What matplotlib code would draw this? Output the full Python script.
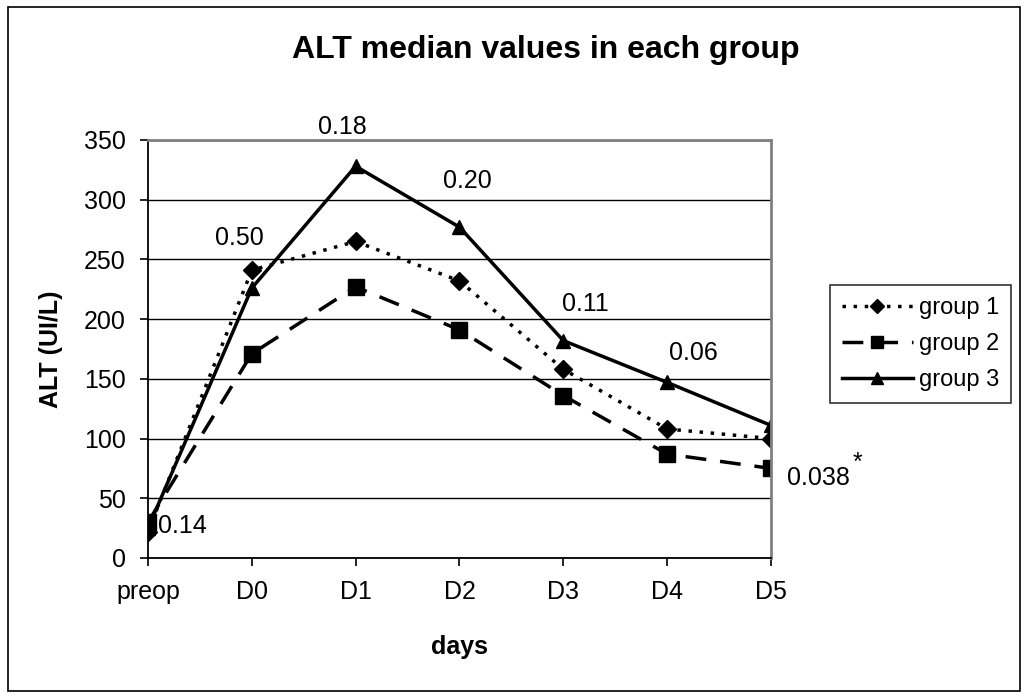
import numpy as np
import matplotlib.pyplot as plt
from matplotlib.patches import Rectangle

plt.rcParams['font.family'] = ['Liberation Sans', 'DejaVu Sans']

# data
days = ["preop", "D0", "D1", "D2", "D3", "D4", "D5"]
group1 = [22, 241, 265, 232, 158, 108, 100]
group2 = [30, 171, 227, 191, 136, 87, 75]
group3 = [25, 226, 328, 277, 182, 147, 111]

# p-values written next to the points
p_labels = ["0.14", "0.50", "0.18", "0.20", "0.11", "0.06", "0.038"]
p_x = [0.1, 0.65, 1.64, 2.84, 3.99, 5.02, 6.15]
p_y = [27, 268, 361, 316, 213, 172, 67]

fig = plt.figure(figsize=(10.27, 6.98), dpi=100)
ax = fig.add_axes([0.1441, 0.2006, 0.6066, 0.5989])

x = np.arange(len(days))
ax.plot(x, group1, color='black', linestyle=(0, (1, 2.2)), linewidth=2.5,
        marker='D', markersize=9, label='group 1')
ax.plot(x, group2, color='black', linestyle=(0, (6, 4)), linewidth=2.5,
        marker='s', markersize=11, label='group 2')
ax.plot(x, group3, color='black', linestyle='-', linewidth=2.5,
        marker='^', markersize=10, label='group 3')

for i in range(len(p_labels)):
    ax.text(p_x[i], p_y[i], p_labels[i], fontsize=18, ha='left', va='center',
            clip_on=False)
ax.text(6.79, 80, "*", fontsize=18, ha='left', va='center', clip_on=False)

ax.set_xlim(0, 6)
ax.set_ylim(0, 350)
ax.set_xticks(x)
ax.set_xticklabels(days)
ax.set_yticks(np.arange(0, 351, 50))
ax.tick_params(axis='both', labelsize=18, direction='out', length=6,
               width=1.2, color='black')
ax.tick_params(axis='x', pad=10)
ax.tick_params(axis='y', pad=10)

ax.yaxis.grid(True, color='black', linewidth=1)
ax.set_axisbelow(True)
ax.spines['left'].set_linewidth(1.3)
ax.spines['bottom'].set_linewidth(1.3)
ax.spines['top'].set_color('#808080')
ax.spines['right'].set_color('#808080')
ax.spines['top'].set_linewidth(2)
ax.spines['right'].set_linewidth(2)

ax.set_xlabel("days", fontsize=18, fontweight='bold', labelpad=22)
ax.set_ylabel("ALT (UI/L)", fontsize=18, fontweight='bold', labelpad=15)
fig.text(0.531, 0.928, "ALT median values in each group", fontsize=23,
         fontweight='bold', ha='center', va='center')

leg = fig.legend(loc='upper left', bbox_to_anchor=(830 / 1027, 1 - 285 / 698),
                 borderaxespad=0, fontsize=17, frameon=True, fancybox=False,
                 handlelength=3.0, handletextpad=0.25, borderpad=0.5,
                 labelspacing=0.6, markerscale=0.8)
leg.get_frame().set_edgecolor('black')
leg.get_frame().set_linewidth(1.2)

# outer frame round the whole chart
fig.patches.append(Rectangle((8 / 1027, 7 / 698), 1012 / 1027, 684 / 698,
                             transform=fig.transFigure, fill=False,
                             edgecolor='black', linewidth=1.2))

fig.savefig("out.png", dpi=100)
